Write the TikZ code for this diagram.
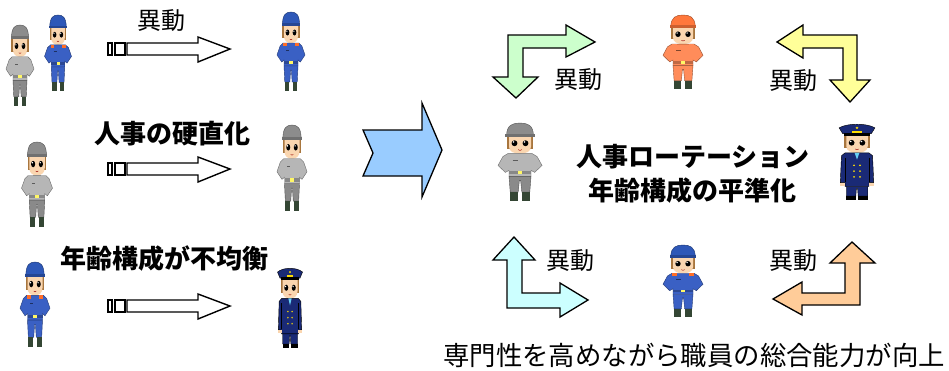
\documentclass[tikz,border=0pt]{standalone}
\usepackage{fontspec}
\newfontfamily\jp{Noto Sans CJK JP}
\definecolor{skin}{RGB}{250,214,176}
\definecolor{hair}{RGB}{168,118,62}
\definecolor{boot}{RGB}{52,70,52}
\definecolor{graycap}{RGB}{140,140,140}
\definecolor{graycoat}{RGB}{182,182,182}
\definecolor{graypants}{RGB}{138,138,138}
\definecolor{bluecap}{RGB}{46,88,184}
\definecolor{bluecoat}{RGB}{58,96,196}
\definecolor{orangecap}{RGB}{255,120,60}
\definecolor{orangecoat}{RGB}{255,140,90}
\definecolor{navy}{RGB}{26,42,118}
\definecolor{collarorange}{RGB}{255,110,40}
\definecolor{bigblue}{RGB}{153,204,255}
\definecolor{fgreen}{RGB}{204,255,204}
\definecolor{fyellow}{RGB}{255,255,153}
\definecolor{fcyan}{RGB}{204,255,255}
\definecolor{forange}{RGB}{255,204,153}

% face with big eyes, shared by both figure kinds
\newcommand\drawface{%
  \fill[hair] (-11,12) rectangle (11,26);
  \fill[skin] (-9,12) -- (9,12) -- (9,24) .. controls (9,29) and (5,31) .. (0,31)
    .. controls (-5,31) and (-9,29) .. (-9,24) -- cycle;
  \fill (-4.5,20.5) ellipse (2.4 and 3.0);
  \fill (4.5,20.5) ellipse (2.4 and 3.0);
  \fill[white] (-5.3,19.2) circle (0.8);
  \fill[white] (3.7,19.2) circle (0.8);
  \draw[red!60!black,line width=0.4] (-1.5,27) .. controls (-0.5,28) and (0.5,28) .. (1.5,27);}

% worker with cap, hands on hips: x, y (top centre), width, height, cap, coat, trousers, collar
\newcommand\drawworker[8]{%
  \begin{scope}[shift={(#1,#2)},xscale=#3/36,yscale=#4/80]
    \drawface
    \filldraw[fill=#5,draw=#5!60!black,line width=0.4] (-11,13) .. controls (-11,2) and (-6,0) .. (0,0)
      .. controls (6,0) and (11,2) .. (11,13) -- cycle;
    \fill[#5!80!black] (-12,11) rectangle (12,14);
    \filldraw[fill=#6,draw=#6!60!black,line width=0.4] (-10,31) -- (10,31) -- (14,34) -- (18,43)
      -- (12,50) -- (9,48) -- (9,54) -- (-9,54) -- (-9,48) -- (-12,50) -- (-18,43) -- (-14,34) -- cycle;
    \fill[#8] (-10,31) rectangle (-5,34);
    \fill[#8] (5,31) rectangle (10,34);
    \draw[#6!50!black,line width=0.6] (-6,38) -- (-2,38);
    \fill[#6!75!black] (-9,49) rectangle (9,52);
    \fill[yellow!60!white] (-2,49) rectangle (2,52);
    \filldraw[fill=#7,draw=#7!60!black,line width=0.4] (-9,54) -- (9,54) -- (8,70) -- (1.5,70)
      -- (0.5,58) -- (-0.5,58) -- (-1.5,70) -- (-8,70) -- cycle;
    \fill[boot] (-8,70) rectangle (-2,79);
    \fill[boot] (2,70) rectangle (8,79);
  \end{scope}}

% officer in long coat and peaked cap: x, y (top centre), width, height
\newcommand\drawofficer[4]{%
  \begin{scope}[shift={(#1,#2)},xscale=#3/36,yscale=#4/80]
    \drawface
    \filldraw[fill=navy,draw=black,line width=0.4] (-12,11) -- (-15,5) .. controls (-8,0) and (8,0)
      .. (15,5) -- (12,11) -- cycle;
    \fill[black] (-11,10) rectangle (11,13);
    \fill[yellow!80!orange] (-4,8) rectangle (4,10);
    \fill[yellow!80!orange] (0,5) circle (1.2);
    \filldraw[fill=navy,draw=black,line width=0.4] (-10,31) -- (10,31) -- (13,34) -- (14,62)
      -- (10,62) -- (10,66) -- (-10,66) -- (-10,62) -- (-14,62) -- (-13,34) -- cycle;
    \fill[cyan!60!white] (-2,31) -- (2,31) -- (0,38) -- cycle;
    \draw[black,line width=0.4] (-10,36) -- (-10,61) (10,36) -- (10,61);
    \foreach \yy in {44,50,56} {
      \fill[yellow!80!orange] (-2.5,\yy) circle (0.9);
      \fill[yellow!80!orange] (2.5,\yy) circle (0.9);
    }
    \fill[skin] (-14,62) rectangle (-10,65);
    \fill[skin] (10,62) rectangle (14,65);
    \filldraw[fill=navy,draw=black,line width=0.4] (-9,66) -- (9,66) -- (9,76) -- (1,76) -- (0.5,68)
      -- (-0.5,68) -- (-1,76) -- (-9,76) -- cycle;
    \fill[black] (-9,76) rectangle (-1,80);
    \fill[black] (1,76) rectangle (9,80);
  \end{scope}}

% hollow arrow with two small blocks behind it, centred on height #1
\newcommand\hollowarrow[2]{%
  \draw[smallarrow] (108,#1-6) rectangle (112,#1+6);
  \draw[smallarrow] (115,#1-6) rectangle (125,#1+6);
  \draw[smallarrow] (127,#1-6) -- (198,#1-6) -- (198,#1-12) -- (230,#1) -- (198,#1+13)
    -- (198,#1+6) -- (127,#1+6) -- cycle;
  \coordinate (#2) at (230,#1);}

\begin{document}
\begin{tikzpicture}[x=1pt,y=-1pt,
  smallarrow/.style={draw=black,fill=white,line width=1.4pt,line join=miter},
  bentarrow/.style={draw=black,line width=1.3pt,line join=miter},
  boldlabel/.style={font=\jp\bfseries\fontsize{26}{30}\selectfont,inner sep=0pt,anchor=base},
  movelabel/.style={font=\jp\fontsize{24}{28}\selectfont,inner sep=0pt,anchor=base},
  notelabel/.style={font=\jp\fontsize{26.4}{30}\selectfont,inner sep=0pt,anchor=base}]
\useasboundingbox (0,0) rectangle (949,370);
\fill[white] (0,0) rectangle (949,370);

% left column: three situations
\drawworker{20}{25}{28}{82}{graycap}{graycoat}{graypants}{graycoat}
\drawworker{58}{15}{27}{77}{bluecap}{bluecoat}{bluecoat}{collarorange}
\drawworker{291}{12}{28}{80}{bluecap}{bluecoat}{bluecoat}{collarorange}
\hollowarrow{49}{arrowA}
\node[movelabel] (moveA) at (161,29) {異動};

\drawworker{37}{142}{31}{86}{graycap}{graycoat}{graypants}{graycoat}
\drawworker{292}{125}{30}{87}{graycap}{graycoat}{graypants}{graycoat}
\hollowarrow{169}{arrowB}
\node[boldlabel] (rigid) at (172,143) {人事の硬直化};

\drawworker{35}{262}{30}{86}{bluecap}{bluecoat}{bluecoat}{collarorange}
\drawofficer{290}{267}{30}{81}
\hollowarrow{306}{arrowC}
\node[boldlabel] (uneven) at (164,268) {年齢構成が不均衡};

% big arrow to the right-hand side
\filldraw[fill=bigblue,draw=black,line width=1.3pt,line join=miter]
  (363,130) -- (422,130) -- (422,103) -- (442,150) -- (422,197) -- (422,176) -- (363,176)
  -- (373,153) -- cycle;

% right-hand side: rotation cycle
\drawworker{683}{15}{40}{75}{orangecap}{orangecoat}{orangecoat}{orangecoat}
\drawworker{520}{123}{44}{79}{graycap}{graycoat}{graypants}{graycoat}
\drawofficer{857}{123}{43}{77}
\drawworker{683}{245}{40}{73}{bluecap}{bluecoat}{bluecoat}{collarorange}

\filldraw[bentarrow,fill=fgreen] (508,35) -- (566,35) -- (566,25) -- (595,42) -- (566,57)
  -- (566,48) -- (523,48) -- (523,77) -- (538,77) -- (516,98) -- (493,77) -- (508,77) -- cycle;
\filldraw[bentarrow,fill=fyellow] (777,42) -- (803,25) -- (803,35) -- (857,35) -- (857,80)
  -- (870,80) -- (850,102) -- (830,80) -- (843,80) -- (843,48) -- (803,48) -- (803,58) -- cycle;
\filldraw[bentarrow,fill=fcyan] (514,237) -- (535,260) -- (522,260) -- (522,293) -- (560,293)
  -- (560,283) -- (588,300) -- (560,317) -- (560,308) -- (507,308) -- (507,260) -- (493,260) -- cycle;
\filldraw[bentarrow,fill=forange] (852,242) -- (875,263) -- (860,263) -- (860,305) -- (802,305)
  -- (802,315) -- (773,299) -- (802,282) -- (802,293) -- (845,293) -- (845,263) -- (830,263) -- cycle;

\node[movelabel] (moveTL) at (578,88) {異動};
\node[movelabel] (moveTR) at (793,89) {異動};
\node[movelabel] (moveBL) at (570,269) {異動};
\node[movelabel] (moveBR) at (793,269) {異動};

\node[boldlabel] (rotation) at (693,166) {人事ローテーション};
\node[boldlabel] (levelled) at (692,200) {年齢構成の平準化};

\node[notelabel] (result) at (694,365) {専門性を高めながら職員の総合能力が向上};
\end{tikzpicture}
\end{document}
